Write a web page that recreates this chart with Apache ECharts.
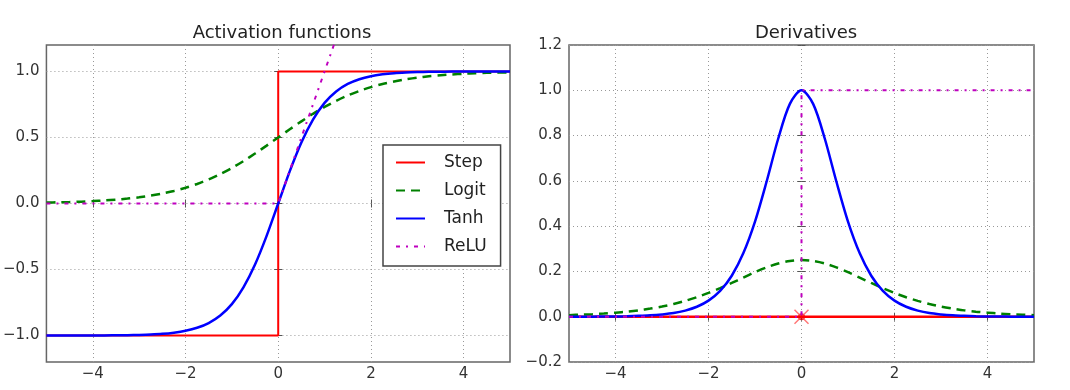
<!DOCTYPE html>
<html>
<head>
<meta charset="utf-8">
<script src="https://cdn.jsdelivr.net/npm/echarts@6/dist/echarts.min.js"></script>
<style>
  html, body { margin: 0; padding: 0; background: #fff; }
  #chart { width: 1070px; height: 390px; }
</style>
</head>
<body>
<div id="chart"></div>
<script>
// sample positions (z) and values
const zs = [-5, -4.75, -4.5, -4.25, -4, -3.75, -3.5, -3.25, -3, -2.75, -2.5, -2.25, -2, -1.75, -1.5, -1.25, -1, -0.75, -0.5, -0.25, 0,
  0.25, 0.5, 0.75, 1, 1.25, 1.5, 1.75, 2, 2.25, 2.5, 2.75, 3, 3.25, 3.5, 3.75, 4, 4.25, 4.5, 4.75, 5];

const logitVals = [0.007, 0.009, 0.011, 0.014, 0.018, 0.023, 0.029, 0.037, 0.047, 0.060, 0.076, 0.095, 0.119, 0.148, 0.182, 0.223, 0.269, 0.321, 0.378, 0.438, 0.500,
  0.562, 0.622, 0.679, 0.731, 0.777, 0.818, 0.852, 0.881, 0.905, 0.924, 0.940, 0.953, 0.963, 0.971, 0.977, 0.982, 0.986, 0.989, 0.991, 0.993];
const tanhVals = [-1.000, -1.000, -1.000, -1.000, -0.999, -0.999, -0.998, -0.997, -0.995, -0.992, -0.987, -0.978, -0.964, -0.941, -0.905, -0.848, -0.762, -0.635, -0.462, -0.245, 0.000,
  0.245, 0.462, 0.635, 0.762, 0.848, 0.905, 0.941, 0.964, 0.978, 0.987, 0.992, 0.995, 0.997, 0.998, 0.999, 0.999, 1.000, 1.000, 1.000, 1.000];
const dLogitVals = [0.007, 0.009, 0.011, 0.014, 0.018, 0.022, 0.028, 0.036, 0.045, 0.056, 0.070, 0.086, 0.105, 0.126, 0.149, 0.173, 0.197, 0.218, 0.235, 0.246, 0.250,
  0.246, 0.235, 0.218, 0.197, 0.173, 0.149, 0.126, 0.105, 0.086, 0.070, 0.056, 0.045, 0.036, 0.028, 0.022, 0.018, 0.014, 0.011, 0.009, 0.007];
const dTanhVals = [0.000, 0.000, 0.000, 0.001, 0.001, 0.002, 0.004, 0.006, 0.010, 0.016, 0.027, 0.044, 0.071, 0.114, 0.181, 0.281, 0.420, 0.597, 0.787, 0.940, 1.000,
  0.940, 0.787, 0.597, 0.420, 0.281, 0.181, 0.114, 0.071, 0.044, 0.027, 0.016, 0.010, 0.006, 0.004, 0.002, 0.001, 0.001, 0.000, 0.000, 0.000];

const stepX = [-5, 0, 0, 5];
const stepY = [-1, -1, 1, 1];
const reluX = [-5, 0, 5];
const reluY = [0, 0, 5];
const dStepX = [-5, 5];
const dStepY = [0, 0];
const dReluX = [-5, 0, 0, 5];
const dReluY = [0, 0, 1, 1];
const kinkPoint = [[0, 0]];

const xTicks = [-4, -2, 0, 2, 4];
const yTicksLeft = [-1, -0.5, 0, 0.5, 1];
const yTicksRight = [-0.2, 0, 0.2, 0.4, 0.6, 0.8, 1.0, 1.2];

const titles = ['Activation functions', 'Derivatives'];
const legendNames = ['Step', 'Logit', 'Tanh', 'ReLU'];

const pts = (xa, ya) => xa.map((x, i) => [x, ya[i]]);
const minus = s => String(s).replace('-', '\u2212');

const FONT = 'DejaVu Sans';
const RED = '#ff0000', GREEN = '#008000', BLUE = '#0000ff', MAG = '#bf00bf';
const DASH = [9, 6];
const DASHDOT = [4, 6, 2, 6];
const GRIDLINE = { color: '#999', type: [1, 3], width: 1 };

function xAx(gi, top) {
  return {
    type: 'value', gridIndex: gi, min: -5, max: 5,
    position: top ? 'top' : 'bottom',
    axisLine: { show: false },
    axisTick: { show: true, inside: true, length: 4, lineStyle: { color: '#555' }, customValues: xTicks },
    axisLabel: { show: !top, margin: 5, fontFamily: FONT, fontSize: 15, color: '#333',
      customValues: xTicks, formatter: v => minus(v) },
    splitLine: { show: !top, lineStyle: GRIDLINE }
  };
}
function yAx(gi, min, max, ticks, right) {
  return {
    type: 'value', gridIndex: gi, min: min, max: max,
    position: right ? 'right' : 'left',
    axisLine: { show: false },
    axisTick: { show: true, inside: true, length: 4, lineStyle: { color: '#555' }, customValues: ticks },
    axisLabel: { show: !right, margin: 7, fontFamily: FONT, fontSize: 15, color: '#333',
      customValues: ticks, formatter: v => minus(v.toFixed(1)) },
    splitLine: { show: !right, lineStyle: GRIDLINE }
  };
}

const chart = echarts.init(document.getElementById('chart'));

const option = {
  animation: false,
  backgroundColor: '#fff',
  title: [
    { text: titles[0], left: 277, top: 19, textAlign: 'center',
      textStyle: { fontFamily: FONT, fontSize: 18, fontWeight: 'normal', color: '#222' } },
    { text: titles[1], left: 801, top: 19, textAlign: 'center',
      textStyle: { fontFamily: FONT, fontSize: 18, fontWeight: 'normal', color: '#222' } }
  ],
  grid: [
    { left: 45, top: 45, width: 465, height: 317, show: true, borderColor: '#666', borderWidth: 1.5, backgroundColor: 'transparent' },
    { left: 569, top: 45, width: 465, height: 317, show: true, borderColor: '#666', borderWidth: 1.5, backgroundColor: 'transparent' }
  ],
  xAxis: [xAx(0, false), xAx(1, false), xAx(0, true), xAx(1, true)],
  yAxis: [yAx(0, -1.2, 1.2, yTicksLeft, false), yAx(1, -0.2, 1.2, yTicksRight, false),
    yAx(0, -1.2, 1.2, yTicksLeft, true), yAx(1, -0.2, 1.2, yTicksRight, true)],
  legend: {
    data: legendNames,
    orient: 'vertical',
    left: 383, top: 145,
    padding: [9, 14, 11, 12],
    itemGap: 11,
    itemWidth: 29, itemHeight: 20,
    backgroundColor: '#fff',
    borderColor: '#444', borderWidth: 1.5, borderRadius: 0,
    itemStyle: { color: 'transparent', borderColor: 'transparent', borderWidth: 0, opacity: 0 },
    textStyle: { fontFamily: FONT, fontSize: 17, color: '#222', padding: [0, 0, 0, 14] }
  },
  series: [
    { name: 'Step', type: 'line', xAxisIndex: 0, yAxisIndex: 0, data: pts(stepX, stepY), showSymbol: false, symbol: 'none',
      lineStyle: { color: RED, width: 2 }, itemStyle: { color: RED } },
    { name: 'Logit', type: 'line', xAxisIndex: 0, yAxisIndex: 0, data: pts(zs, logitVals), showSymbol: false, symbol: 'none', smooth: 0.3,
      lineStyle: { color: GREEN, width: 2.5, type: DASH }, itemStyle: { color: GREEN } },
    { name: 'Tanh', type: 'line', xAxisIndex: 0, yAxisIndex: 0, data: pts(zs, tanhVals), showSymbol: false, symbol: 'none', smooth: 0.3,
      lineStyle: { color: BLUE, width: 2.5 }, itemStyle: { color: BLUE } },
    { name: 'ReLU', type: 'line', xAxisIndex: 0, yAxisIndex: 0, data: pts(reluX, reluY), showSymbol: false, symbol: 'none', clip: true,
      lineStyle: { color: MAG, width: 2, type: DASHDOT }, itemStyle: { color: MAG } },

    { name: 'dStep', type: 'line', xAxisIndex: 1, yAxisIndex: 1, data: pts(dStepX, dStepY), showSymbol: false, symbol: 'none',
      lineStyle: { color: RED, width: 2.5 }, itemStyle: { color: RED } },
    { name: 'kink', type: 'scatter', xAxisIndex: 1, yAxisIndex: 1, data: kinkPoint, symbol: 'circle', symbolSize: 7,
      itemStyle: { color: '#e00000' } },
    { name: 'kinkX', type: 'scatter', xAxisIndex: 1, yAxisIndex: 1, data: kinkPoint, symbol: 'path://M0,0L10,10M10,0L0,10', symbolSize: 14,
      itemStyle: { color: 'transparent', borderColor: '#ff5555', borderWidth: 1.5 } },
    { name: 'dLogit', type: 'line', xAxisIndex: 1, yAxisIndex: 1, data: pts(zs, dLogitVals), showSymbol: false, symbol: 'none', smooth: 0.3,
      lineStyle: { color: GREEN, width: 2.5, type: DASH }, itemStyle: { color: GREEN } },
    { name: 'dTanh', type: 'line', xAxisIndex: 1, yAxisIndex: 1, data: pts(zs, dTanhVals), showSymbol: false, symbol: 'none', smooth: 0.3,
      lineStyle: { color: BLUE, width: 2.5 }, itemStyle: { color: BLUE } },
    { name: 'dReLU', type: 'line', xAxisIndex: 1, yAxisIndex: 1, data: pts(dReluX, dReluY), showSymbol: false, symbol: 'none',
      lineStyle: { color: MAG, width: 2, type: DASHDOT }, itemStyle: { color: MAG } }
  ]
};

chart.setOption(option);
</script>
</body>
</html>
